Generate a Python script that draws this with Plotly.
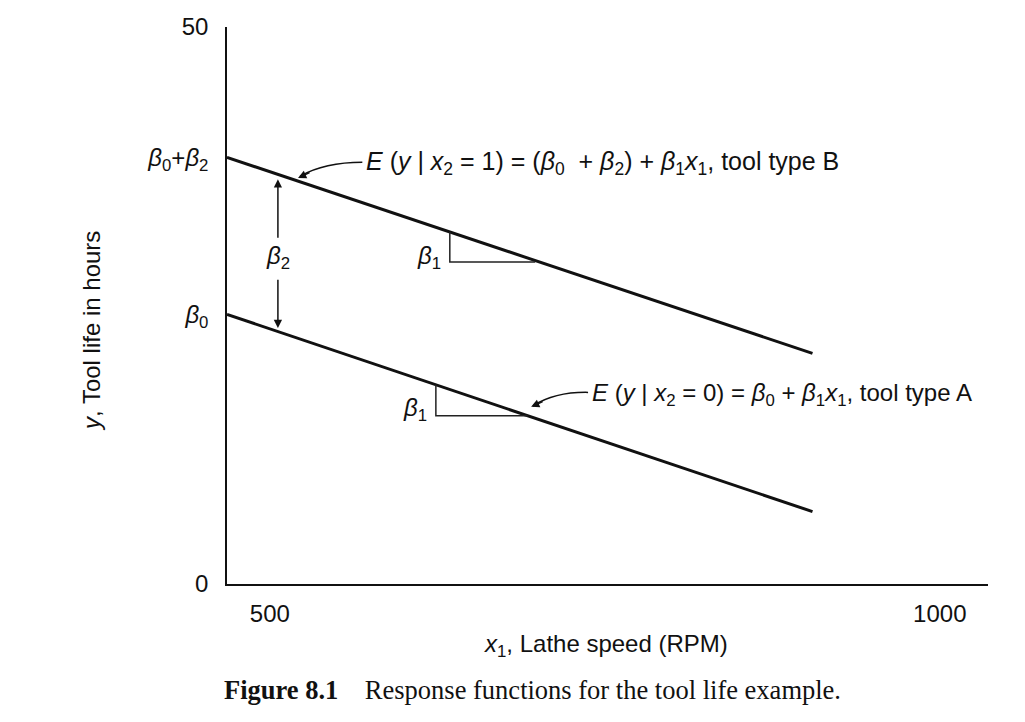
import plotly.graph_objects as go

# ---- data ----
x_range = [468, 905]                 # lathe speed (RPM) span of the response lines
y_type_b = [38.3, 20.7]              # E(y | x2 = 1), tool type B
y_type_a = [24.2, 6.5]               # E(y | x2 = 0), tool type A
beta0 = 24.2
beta0_plus_beta2 = 38.3
y_tick_vals = [0, beta0, beta0_plus_beta2, 50]
y_tick_text = ["0", "<i>β</i><sub>0</sub>", "<i>β</i><sub>0</sub>+<i>β</i><sub>2</sub>", "50"]
x_tick_vals = [500, 1000]
x_tick_text = ["500", "1000"]

# slope triangles (beta1)
tri_b_x = [634.3, 634.3, 698.0]
tri_b_y = [31.6, 28.9, 28.9]
tri_a_x = [623.9, 623.9, 692.5]
tri_a_y = [17.9, 15.1, 15.1]

# beta2 gap arrow
gap_x = 506
gap_top = 36.7
gap_bot = 22.8
gap_label_y = 29.35

FONT = "Liberation Sans, Arial, sans-serif"
SERIF = "Liberation Serif, Times New Roman, serif"
BLACK = "#111111"
FS = 24

fig = go.Figure()
fig.add_trace(go.Scatter(x=x_range, y=y_type_b, mode="lines",
                         line=dict(color=BLACK, width=3), showlegend=False, hoverinfo="skip"))
fig.add_trace(go.Scatter(x=x_range, y=y_type_a, mode="lines",
                         line=dict(color=BLACK, width=3), showlegend=False, hoverinfo="skip"))
fig.add_trace(go.Scatter(x=tri_b_x, y=tri_b_y, mode="lines",
                         line=dict(color="#222222", width=1.5), showlegend=False, hoverinfo="skip"))
fig.add_trace(go.Scatter(x=tri_a_x, y=tri_a_y, mode="lines",
                         line=dict(color="#222222", width=1.5), showlegend=False, hoverinfo="skip"))

ann = []
# beta2 double arrow (two halves around the label)
ann.append(dict(x=gap_x, y=gap_top, ax=gap_x, ay=gap_label_y + 1.6, xref="x", yref="y",
                axref="x", ayref="y", text="", showarrow=True, arrowhead=2, arrowsize=1.1,
                arrowwidth=1.5, arrowcolor=BLACK, standoff=4))
ann.append(dict(x=gap_x, y=gap_bot, ax=gap_x, ay=gap_label_y - 1.9, xref="x", yref="y",
                axref="x", ayref="y", text="", showarrow=True, arrowhead=2, arrowsize=1.1,
                arrowwidth=1.5, arrowcolor=BLACK, standoff=2))
ann.append(dict(x=gap_x, y=gap_label_y, xref="x", yref="y", text="<i>β</i><sub>2</sub>",
                showarrow=False, font=dict(family=FONT, size=FS, color=BLACK)))
# beta1 labels
ann.append(dict(x=629, y=29.3, xref="x", yref="y", xanchor="right", text="<i>β</i><sub>1</sub>",
                showarrow=False, font=dict(family=FONT, size=FS, color=BLACK)))
ann.append(dict(x=619, y=15.7, xref="x", yref="y", xanchor="right", text="<i>β</i><sub>1</sub>",
                showarrow=False, font=dict(family=FONT, size=FS, color=BLACK)))
# equation labels
ann.append(dict(x=570.5, y=37.8, xref="x", yref="y", xanchor="left",
                text="<i>E</i> (<i>y</i> | <i>x</i><sub>2</sub> = 1) = (<i>β</i><sub>0</sub>\u00a0 + <i>β</i><sub>2</sub>) + <i>β</i><sub>1</sub><i>x</i><sub>1</sub>, tool type B",
                showarrow=False, font=dict(family=FONT, size=25, color=BLACK)))
ann.append(dict(x=739, y=17.0, xref="x", yref="y", xanchor="left",
                text="<i>E</i> (<i>y</i> | <i>x</i><sub>2</sub> = 0) = <i>β</i><sub>0</sub> + <i>β</i><sub>1</sub><i>x</i><sub>1</sub>, tool type A",
                showarrow=False, font=dict(family=FONT, size=FS, color=BLACK)))
# arrowheads for curved pointers
ann.append(dict(x=521, y=36.45, ax=13, ay=-6, xref="x", yref="y", text="", showarrow=True,
                arrowhead=2, arrowsize=1.1, arrowwidth=1.5, arrowcolor=BLACK))
ann.append(dict(x=695, y=15.9, ax=13, ay=-6, xref="x", yref="y", text="", showarrow=True,
                arrowhead=2, arrowsize=1.1, arrowwidth=1.5, arrowcolor=BLACK))
# axis titles and caption (pixel positions converted below)
ann.append(dict(x=92, y=331, text="<i>y</i>, Tool life in hours",
                showarrow=False, textangle=-90, font=dict(family=FONT, size=FS, color=BLACK)))
ann.append(dict(x=606, y=645, text="<i>x</i><sub>1</sub>, Lathe speed (RPM)", showarrow=False,
                font=dict(family=FONT, size=FS, color=BLACK)))
ann.append(dict(x=532, y=690, text="<b>Figure 8.1</b>\u00a0\u00a0\u00a0\u00a0Response functions for the tool life example.",
                showarrow=False, font=dict(family=SERIF, size=26.5, color=BLACK)))

W, H = 1025, 722
L, R, T, B = 227, 37, 27, 138
pw, ph = W - L - R, H - T - B
for a in ann[-3:]:
    px, py = a["x"], a["y"]
    a["xref"], a["yref"] = "paper", "paper"
    a["xanchor"], a["yanchor"] = "center", "middle"
    a["x"] = (px - L) / pw
    a["y"] = (H - B - py) / ph

shapes = [
    dict(type="path", xref="x", yref="y", path="M 569,37.85 Q 541,37.85 522.5,36.6",
         line=dict(color=BLACK, width=1.5)),
    dict(type="path", xref="x", yref="y", path="M 737.5,17.2 Q 713,17.25 696.5,16.0",
         line=dict(color=BLACK, width=1.5)),
]

fig.update_layout(
    width=W, height=H,
    margin=dict(l=L, r=R, t=T, b=B),
    paper_bgcolor="white", plot_bgcolor="white",
    annotations=ann, shapes=shapes,
    font=dict(family=FONT, size=FS, color=BLACK),
    xaxis=dict(range=[468, 1036], tickvals=x_tick_vals, ticktext=x_tick_text,
               showgrid=False, zeroline=False, showline=True, linecolor=BLACK, linewidth=1.5,
               ticks="", ticklabelstandoff=7, tickfont=dict(size=FS)),
    yaxis=dict(range=[0, 50], tickvals=y_tick_vals, ticktext=y_tick_text,
               showgrid=False, zeroline=False, showline=True, linecolor=BLACK, linewidth=1.5,
               ticks="", ticklabelstandoff=12, tickfont=dict(size=FS)),
)

fig.write_html("out.html")
